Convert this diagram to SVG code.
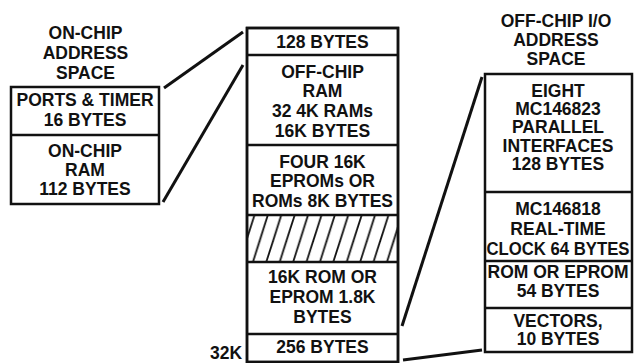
<svg xmlns="http://www.w3.org/2000/svg" width="634" height="363" viewBox="0 0 634 363">
<style>
.t{font-family:"Liberation Sans",Arial,sans-serif;font-weight:bold;font-size:17.5px;fill:#111;text-anchor:middle}
.b{fill:#fff;stroke:#111;stroke-width:2.5}
.d{stroke:#111;stroke-width:2.5;fill:none}
.c{stroke:#111;stroke-width:3;fill:none;stroke-linecap:butt}
</style>
<defs>
<pattern id="hatch" patternUnits="userSpaceOnUse" width="13.4" height="47" x="247" y="215">
<line x1="-7.5" y1="47" x2="7.5" y2="0" stroke="#111" stroke-width="1.8"/>
<line x1="5.9" y1="47" x2="20.9" y2="0" stroke="#111" stroke-width="1.8"/>
</pattern>
</defs>
<rect width="634" height="363" fill="#fff"/>
<g id="connectors">
<line class="c" x1="164" y1="88" x2="243" y2="32"/>
<line class="c" x1="163" y1="202" x2="243" y2="65"/>
<line class="c" x1="402" y1="326" x2="482" y2="77"/>
<line class="c" x1="403" y1="360" x2="482" y2="350"/>
</g>
<g id="on-chip">
<text class="t" x="85.5" y="39">ON-CHIP</text>
<text class="t" x="85.5" y="59">ADDRESS</text>
<text class="t" x="85.5" y="79">SPACE</text>
<rect class="b" x="11" y="87" width="148" height="117"/>
<line class="d" x1="11" y1="135" x2="159" y2="135"/>
<text class="t" x="85" y="106">PORTS &amp; TIMER</text>
<text class="t" x="85" y="126">16 BYTES</text>
<text class="t" x="85" y="157">ON-CHIP</text>
<text class="t" x="85" y="176">RAM</text>
<text class="t" x="85" y="195">112 BYTES</text>
</g>
<g id="memory-map">
<rect class="b" x="247" y="28" width="151" height="334"/>
<rect x="247" y="215" width="151" height="47" fill="url(#hatch)"/>
<line class="d" x1="247" y1="55" x2="398" y2="55"/>
<line class="d" x1="247" y1="145" x2="398" y2="145"/>
<line class="d" x1="247" y1="215" x2="398" y2="215"/>
<line class="d" x1="247" y1="262" x2="398" y2="262"/>
<line class="d" x1="247" y1="334" x2="398" y2="334"/>
<rect x="247" y="28" width="151" height="334" fill="none" stroke="#111" stroke-width="2.5"/>
<text class="t" x="322.5" y="48">128 BYTES</text>
<text class="t" x="322.5" y="78">OFF-CHIP</text>
<text class="t" x="322.5" y="97">RAM</text>
<text class="t" x="322.5" y="117">32 4K RAMs</text>
<text class="t" x="322.5" y="137">16K BYTES</text>
<text class="t" x="322.5" y="168">FOUR 16K</text>
<text class="t" x="322.5" y="187">EPROMs OR</text>
<text class="t" x="322.5" y="207">ROMs 8K BYTES</text>
<text class="t" x="322.5" y="283">16K ROM OR</text>
<text class="t" x="322.5" y="303">EPROM 1.8K</text>
<text class="t" x="322.5" y="323">BYTES</text>
<text class="t" x="322.5" y="353">256 BYTES</text>
<text class="t" x="226" y="359">32K</text>
</g>
<g id="off-chip-io">
<text class="t" x="556" y="27">OFF-CHIP I/O</text>
<text class="t" x="556" y="46">ADDRESS</text>
<text class="t" x="556" y="65">SPACE</text>
<rect class="b" x="485" y="74" width="147" height="278"/>
<line class="d" x1="485" y1="192" x2="632" y2="192"/>
<line class="d" x1="485" y1="261" x2="632" y2="261"/>
<line class="d" x1="485" y1="308" x2="632" y2="308"/>
<text class="t" x="558" y="97">EIGHT</text>
<text class="t" x="558" y="115">MC146823</text>
<text class="t" x="558" y="133">PARALLEL</text>
<text class="t" x="558" y="152">INTERFACES</text>
<text class="t" x="558" y="170">128 BYTES</text>
<text class="t" x="558" y="215">MC146818</text>
<text class="t" x="558" y="235">REAL-TIME</text>
<text class="t" x="558" y="255" textLength="143" lengthAdjust="spacingAndGlyphs">CLOCK 64 BYTES</text>
<text class="t" x="558" y="278">ROM OR EPROM</text>
<text class="t" x="558" y="297">54 BYTES</text>
<text class="t" x="558" y="327">VECTORS,</text>
<text class="t" x="558" y="345">10 BYTES</text>
</g>
</svg>
